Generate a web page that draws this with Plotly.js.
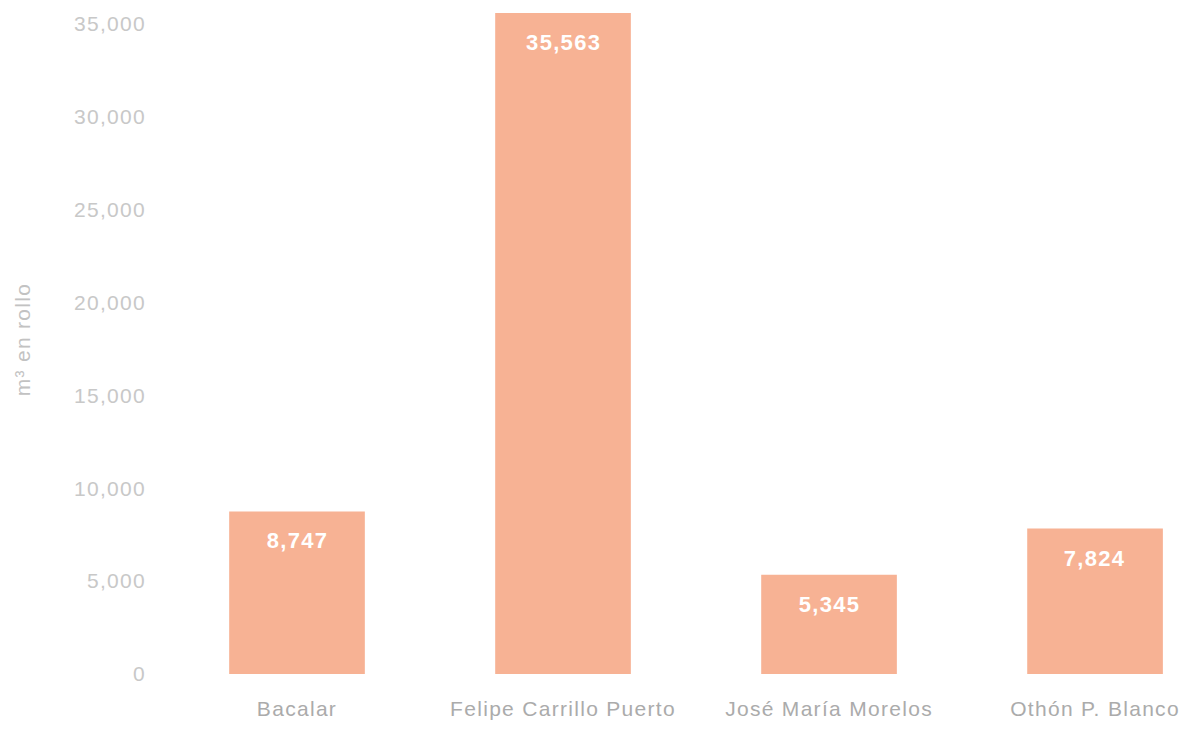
<!DOCTYPE html>
<html>
<head>
<meta charset="utf-8">
<script src="https://cdn.plot.ly/plotly-3.0.1.min.js"></script>
<style>
html,body{margin:0;padding:0;background:#fff;}
#chart{width:1194px;height:730px;}
#chart text{letter-spacing:1.3px;}
</style>
</head>
<body>
<div id="chart"></div>
<script>
const categories = ["Bacalar", "Felipe Carrillo Puerto", "José María Morelos", "Othón P. Blanco"];
const values = [8747, 35563, 5345, 7824];
const valueLabels = ["8,747", "35,563", "5,345", "7,824"];
const tickVals = [0, 5000, 10000, 15000, 20000, 25000, 30000, 35000];
const tickText = ["0", "5,000", "10,000", "15,000", "20,000", "25,000", "30,000", "35,000"];

const trace = {
  type: "bar",
  x: categories,
  y: values,
  marker: {color: "#F7B294"},
  hoverinfo: "none"
};

const annotations = categories.map((c, i) => ({
  x: c, y: values[i], xref: "x", yref: "y",
  text: "<b>" + valueLabels[i] + "</b>",
  showarrow: false, yanchor: "top", yshift: -15,
  font: {family: "Liberation Sans, Arial, sans-serif", size: 22, color: "#ffffff"}
}));

const layout = {
  width: 1194, height: 730,
  margin: {l: 164, r: 0, t: 5, b: 56},
  paper_bgcolor: "#ffffff", plot_bgcolor: "#ffffff",
  showlegend: false,
  bargap: 0.49,
  xaxis: {
    range: [-0.5, 3.372],
    showgrid: false, zeroline: false, showline: false, ticks: "",
    tickfont: {family: "Liberation Sans, Arial, sans-serif", size: 21, color: "#ababab"},
    ticklabelstandoff: 20
  },
  yaxis: {
    range: [0, 36000],
    tickvals: tickVals, ticktext: tickText,
    showgrid: false, zeroline: false, showline: false, ticks: "",
    tickfont: {family: "Liberation Sans, Arial, sans-serif", size: 21, color: "#c8c8c8"},
    ticklabelstandoff: 17,
    title: {text: "m³ en rollo", standoff: 45,
      font: {family: "Liberation Sans, Arial, sans-serif", size: 21, color: "#c2c2c2"}}
  },
  annotations: annotations
};

Plotly.newPlot("chart", [trace], layout, {staticPlot: true, displayModeBar: false});
</script>
</body>
</html>
